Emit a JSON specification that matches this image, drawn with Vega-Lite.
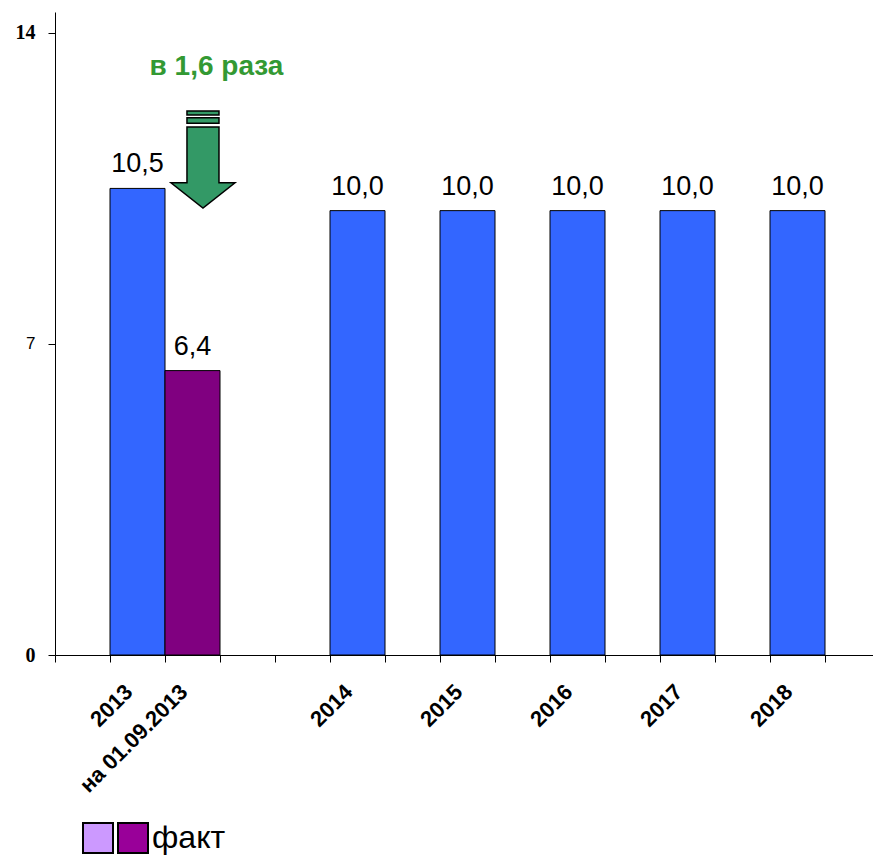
{
  "$schema": "https://vega.github.io/schema/vega-lite/v6.json",
  "autosize": {"type": "none"},
  "padding": {"left": 55, "top": 12, "right": 0, "bottom": 201},
  "width": 825,
  "height": 643,
  "background": "white",
  "config": {"view": {"stroke": null}},
  "datasets": {
    "bars": [
      {"cat": "2013", "series": "план", "value": 10.5},
      {"cat": "на 01.09.2013", "series": "факт", "value": 6.4},
      {"cat": "2014", "series": "план", "value": 10.0},
      {"cat": "2015", "series": "план", "value": 10.0},
      {"cat": "2016", "series": "план", "value": 10.0},
      {"cat": "2017", "series": "план", "value": 10.0},
      {"cat": "2018", "series": "план", "value": 10.0}
    ],
    "note": [{"cat": "на 01.09.2013", "value": 13.05, "text": "в 1,6 раза"}],
    "arrow": [{"cat": "на 01.09.2013", "value": 11.15}]
  },
  "layer": [
    {
      "data": {"name": "bars"},
      "mark": {"type": "bar", "stroke": "black", "strokeWidth": 1},
      "encoding": {
        "x": {
          "field": "cat", "type": "nominal",
          "scale": {"domain": ["_0", "2013", "на 01.09.2013", "_3", "_4", "2014", "_6", "2015", "_8", "2016", "_10", "2017", "_12", "2018", "_14"], "paddingInner": 0, "paddingOuter": 0},
          "axis": {
            "title": null,
            "labelExpr": "isString(datum.value) && indexof(datum.value, '_') != 0 ? datum.value : ''",
            "tickBand": "extent",
            "domainColor": "black",
            "tickColor": "black",
            "tickSize": 7,
            "labelAngle": -45,
            "labelAlign": "right",
            "labelBaseline": "middle",
            "labelPadding": 26,
            "labelOffset": -9,
            "labelFont": "Liberation Sans",
            "labelFontWeight": "bold",
            "labelFontSize": 22,
            "labelColor": "black",
            "labelOverlap": false
          }
        },
        "y": {
          "field": "value", "type": "quantitative",
          "scale": {"domain": [0, 14.47], "nice": false, "zero": true},
          "axis": {
            "title": null,
            "values": [0, 7, 14],
            "grid": false,
            "domainColor": "black",
            "tickColor": "black",
            "tickSize": 7,
            "labelPadding": 13,
            "labelColor": "black",
            "labelFontSize": {"condition": {"test": "datum.value == 7", "value": 17}, "value": 20},
            "labelFont": {"condition": {"test": "datum.value == 7", "value": "Liberation Sans"}, "value": "Liberation Serif"},
            "labelFontWeight": {"condition": {"test": "datum.value == 7", "value": "normal"}, "value": "bold"}
          }
        },
        "fill": {
          "field": "series", "type": "nominal",
          "scale": {"domain": ["план", "факт", "_l", "_f"], "range": ["#3366FF", "#800080", "#CC99FF", "#990099"]},
          "legend": {
            "title": null,
            "values": ["_l", "_f"],
            "labelExpr": "datum.value == '_f' ? 'факт' : ''",
            "orient": "none",
            "legendX": 27,
            "legendY": 810,
            "direction": "horizontal",
            "padding": 0,
            "symbolType": "square",
            "symbolSize": 900,
            "symbolStrokeColor": "black",
            "symbolStrokeWidth": 2,
            "symbolOpacity": 1,
            "labelOffset": 3,
            "columnPadding": -14,
            "labelFont": "Liberation Sans",
            "labelFontSize": 32,
            "labelColor": "black"
          }
        }
      }
    },
    {
      "data": {"name": "bars"},
      "transform": [{"calculate": "replace(format(datum.value, '.1f'), '.', ',')", "as": "lab"}],
      "mark": {"type": "text", "font": "Liberation Sans", "fontSize": 27, "color": "black", "baseline": "alphabetic", "dy": -16},
      "encoding": {
        "x": {"field": "cat", "type": "nominal"},
        "y": {"field": "value", "type": "quantitative"},
        "text": {"field": "lab"}
      }
    },
    {
      "data": {"name": "note"},
      "mark": {"type": "text", "font": "Liberation Sans", "fontSize": 28, "fontWeight": "bold", "color": "#339933", "baseline": "alphabetic", "dx": 24},
      "encoding": {
        "x": {"field": "cat", "type": "nominal"},
        "y": {"field": "value", "type": "quantitative"},
        "text": {"field": "text"}
      }
    },
    {
      "data": {"name": "arrow"},
      "mark": {
        "type": "point",
        "shape": "M-0.114,-1H0.546V-0.92H-0.114Z M-0.114,-0.86H0.546V-0.75H-0.114Z M-0.114,-0.67H0.546V0.48H0.876L0.216,1L-0.444,0.48H-0.114Z",
        "filled": true,
        "fill": "#339966",
        "stroke": "black",
        "strokeWidth": 1.5,
        "opacity": 1,
        "size": 9409
      },
      "encoding": {
        "x": {"field": "cat", "type": "nominal"},
        "y": {"field": "value", "type": "quantitative"}
      }
    }
  ]
}
